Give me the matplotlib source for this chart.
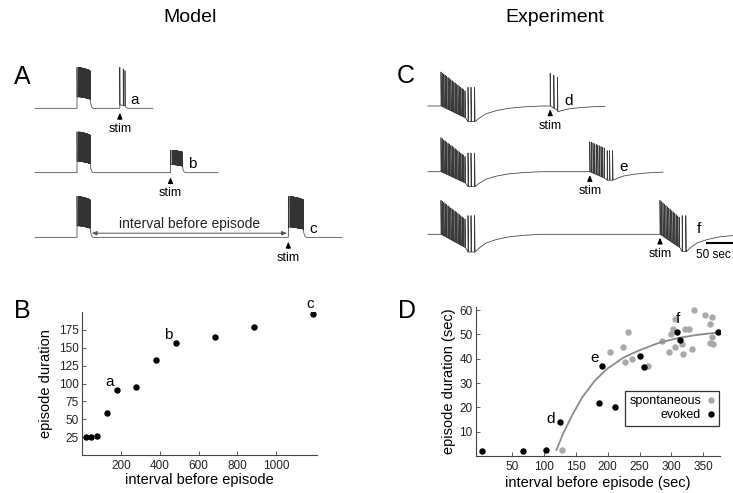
"""Model vs experiment: episode traces (A, C) and episode duration against the
interval before the episode (B, D). Saves out.png."""
import numpy as np
import matplotlib.pyplot as plt
from matplotlib.lines import Line2D

plt.rcParams['font.family'] = ['Liberation Sans', 'DejaVu Sans']

W, H = 733, 493

# ---- B: model, episode duration vs interval before episode ----
model_interval = [21, 45, 79, 129, 179, 279, 379, 483, 685, 887, 1190]
model_duration = [25, 25, 27, 59, 91, 95, 133, 157, 165, 179, 197]
model_tags = ['a', 'b', 'c']
model_tag_idx = [4, 7, 10]

# ---- D: experiment ----
spont_interval = [128, 203.8, 223.7, 226.8, 231.5, 237.8, 263.8, 285.2, 295.7,
                  299.3, 303, 305, 306, 316, 317.6, 321.2, 327.5, 332.2, 335.8,
                  353, 360.3, 363, 363.5, 360.3, 365.5]
spont_duration = [2.5, 42.6, 44.7, 38.8, 50.8, 39.7, 37.1, 47.1, 42.6,
                  50, 52.1, 56.5, 44.9, 46, 41.9, 52.1, 52.1, 44, 60,
                  58, 54.3, 49, 57, 46.3, 46]
evoked_interval = [4, 67, 104, 126, 186, 192, 212, 250, 257, 309, 313, 373]
evoked_duration = [2.2, 2.2, 2.5, 14.1, 21.7, 37, 20, 41.1, 36.7, 51, 47.7, 51]
fit_interval = [120, 130, 145, 160, 180, 200, 225, 250, 280, 310, 340, 370]
fit_duration = [2.5, 9, 17, 24, 31, 36, 40.5, 43.5, 46.5, 48.5, 49.8, 50.7]
exp_tags = ['d', 'e', 'f']
exp_tag_idx = [3, 5, 9]

# ---- A: model traces (time units of the model) ----
model_first_len = 78
model_trace_start = -252
model_trace_end = [456, 846, 1590]
model_evoked_len = [31, 71, 89]
model_evoked_top = [1.0, 0.55, 1.0]
model_evoked_n = [3, 30, 40]
model_plateau = [0.08, 0.2, 0.25]

# ---- C: recorded traces (seconds, first episode starts at 0) ----
exp_first_len = 56
exp_trace_start = -22
exp_trace_end = [273, 370, 560]
exp_first_trough = [0.46, 0.44, 0.52]
# evoked bursts d, e, f: dense span, spike count, top start/end,
# late sparse spikes (s after onset), their height, trough depth
exp_dense_len = [12, 24, 32]
exp_dense_n = [3, 10, 14]
exp_top_start = [0.96, 0.88, 1.0]
exp_top_end = [0.85, 0.7, 0.5]
exp_sparse = [[], [29, 33, 38], [37, 43]]
exp_sparse_top = [0.0, 0.62, 0.55]
exp_trough = [0.17, 0.25, 0.51]

fig = plt.figure(figsize=(W / 100, H / 100), dpi=100)


def px_axes(left, top, right, bottom):
    ax = fig.add_axes([left / W, 1 - bottom / H, (right - left) / W, (bottom - top) / H])
    return ax


def burst(onset, spikes, tops, bottoms, width, decay_t, decay_f):
    t, v = [onset], [0.0]
    for s, hi, lo in zip(spikes, tops, bottoms):
        t += [s, s, s + width]
        v += [lo, hi, lo]
    end, lo = t[-1], v[-1]
    t += list(end + np.asarray(decay_t, float))
    v += list(lo * np.asarray(decay_f, float))
    return t, v


def model_burst(onset, dur, top, n, plateau):
    spikes = onset + dur * np.linspace(0, 1, n) ** 0.6
    tops = np.linspace(top, 0.92 * top, n)
    bottoms = np.linspace(plateau, 0.8 * plateau, n)
    return burst(onset, spikes, tops, bottoms, 1.0, [0, 4, 10, 18], [1, 0.45, 0.12, 0])


RECOVER_T = [0, 6, 18, 35, 55, 80, 110]
RECOVER_F = [1, 0.8, 0.5, 0.3, 0.15, 0.06, 0]


def exp_burst(onset, dense_len, n, top0, top1, sparse, sparse_top, trough):
    spikes = np.concatenate([onset + np.linspace(0, dense_len, n), onset + np.asarray(sparse, float)])
    tops = np.concatenate([np.linspace(top0, top1, n), np.full(len(sparse), sparse_top)])
    bottoms = -trough * np.concatenate([np.linspace(0, 0.75, n), np.ones(len(sparse))])
    t, v = burst(onset, spikes, tops, bottoms, 0.8, RECOVER_T, RECOVER_F)
    v[-len(RECOVER_F):] = list(-trough * np.asarray(RECOVER_F))
    return t, v


def finish(start, pieces, end):
    """Join burst pieces into one trace running from start to end."""
    t, v = [start], [0.0]
    for pt, pv in pieces:
        t += pt
        v += pv
    t, v = np.asarray(t), np.asarray(v)
    keep = t < end
    v_end = np.interp(end, t, v) if t[-1] > end else 0.0
    return np.append(t[keep], end), np.append(v[keep], v_end)


def stim_mark(ax, t, tip, tail, text_y):
    ax.annotate('', xy=(t, tip), xytext=(t, tail),
                arrowprops=dict(arrowstyle='-|>,head_width=0.15,head_length=0.35',
                                lw=0.8, color='black', shrinkA=0, shrinkB=0))
    ax.text(t, text_y, 'stim', ha='center', va='center', fontsize=9)


# ---------------- panel A ----------------
A_UNIT = 41
a_bases = [108.3, 172.7, 237.3]
for k, base in enumerate(a_bases):
    ax = px_axes(30, base - 1.15 * A_UNIT, 350, base + 0.75 * A_UNIT)
    ax.set_xlim((30 - 77) * 6, (350 - 77) * 6)
    ax.set_ylim(-0.75, 1.15)
    ax.axis('off')
    stim = model_first_len + model_interval[model_tag_idx[k]]
    t, v = finish(model_trace_start,
                  [model_burst(0, model_first_len, 1.0, 40, 0.28),
                   model_burst(stim, model_evoked_len[k], model_evoked_top[k],
                               model_evoked_n[k], model_plateau[k])],
                  model_trace_end[k])
    ax.plot(t, v, color='#333333', lw=0.5)
    stim_mark(ax, stim, -0.11, -0.27, -0.5)
    ax.text(stim + model_evoked_len[k] + 60, 0.2, model_tags[k], ha='center',
            va='center', fontsize=11)
    if k == 2:
        ax.annotate('', xy=(model_first_len + 10, 0.1), xytext=(stim - 8, 0.1),
                    arrowprops=dict(arrowstyle='<|-|>,head_width=0.12,head_length=0.3',
                                    lw=0.7, color='#555555', shrinkA=0, shrinkB=0))
        ax.text((model_first_len + stim) / 2 + 5, 0.32, 'interval before episode',
                ha='center', va='center', fontsize=10, color='#222222')

# ---------------- panel C ----------------
C_UNIT = 34
c_bases = [106.0, 171.7, 234.3]
c_tag_dx = [31, 57, 65]
for k, base in enumerate(c_bases):
    ax = px_axes(420, base - 1.15 * C_UNIT, W, base + 0.8 * C_UNIT)
    ax.set_xlim((420 - 441) / 0.6, (W - 441) / 0.6)
    ax.set_ylim(-0.8, 1.15)
    ax.axis('off')
    stim = exp_first_len + evoked_interval[exp_tag_idx[k]]
    t, v = finish(exp_trace_start,
                  [exp_burst(0, 40, 18, 1.0, 0.45, [45, 50, 56], 0.55, exp_first_trough[k]),
                   exp_burst(stim, exp_dense_len[k], exp_dense_n[k], exp_top_start[k],
                             exp_top_end[k], exp_sparse[k], exp_sparse_top[k], exp_trough[k])],
                  exp_trace_end[k])
    ax.plot(t, v, color='#3a3a3a', lw=0.55)
    stim_mark(ax, stim, -0.1, -0.24, -0.58)
    ax.text(stim + c_tag_dx[k], 0.15, exp_tags[k], ha='center', va='center', fontsize=11)
    if k == 2:
        ax.plot([442, 492], [-0.27, -0.27], color='black', lw=1.5, solid_capstyle='butt')
        ax.text((731 - 441) / 0.6, -0.62, '50 sec', ha='right', va='center', fontsize=8.5)

# ---------------- panel B ----------------
AX_COL = '#444444'


def style_axes(ax):
    for side in ('top', 'right'):
        ax.spines[side].set_visible(False)
    for side in ('left', 'bottom'):
        ax.spines[side].set_color(AX_COL)
        ax.spines[side].set_linewidth(0.8)
    ax.tick_params(direction='in', length=3, width=0.6, colors=AX_COL,
                   labelcolor='#222222', labelsize=8.5)
    ax.tick_params(axis='x', pad=3.5)
    ax.tick_params(axis='y', pad=2.5)
    ax.patch.set_visible(False)


axB = px_axes(82, 312, 317, 455)
style_axes(axB)
axB.scatter(model_interval, model_duration, s=13, color='black', zorder=3)
axB.set_xlim(0, 1210)
axB.set_ylim(0, 200)
axB.set_xticks([200, 400, 600, 800, 1000])
axB.set_yticks([25, 50, 75, 100, 125, 150, 175])
axB.set_xlabel('interval before episode', fontsize=10.5, labelpad=1)
axB.set_ylabel('episode duration', fontsize=10.5, labelpad=4)
b_offsets = [(-5.5, 6), (-5.5, 5.5), (-2, 7.5)]
for tag, i, off in zip(model_tags, model_tag_idx, b_offsets):
    axB.annotate(tag, (model_interval[i], model_duration[i]), xytext=off,
                 textcoords='offset points', ha='center', va='center', fontsize=11)

# ---------------- panel D ----------------
axD = px_axes(476, 306.7, 720, 456)
style_axes(axD)
axD.scatter(spont_interval, spont_duration, s=13, color='#a9a9a9', zorder=2)
axD.plot(fit_interval, fit_duration, color='#8a8a8a', lw=1.3, zorder=3)
axD.scatter(evoked_interval, evoked_duration, s=13, color='black', zorder=4)
axD.set_xlim(-6, 376)
axD.set_ylim(0, 61.4)
axD.set_xticks([50, 100, 150, 200, 250, 300, 350])
axD.set_yticks([10, 20, 30, 40, 50, 60])
axD.set_xlabel('interval before episode (sec)', fontsize=10.5, labelpad=2)
axD.set_ylabel('episode duration (sec)', fontsize=10.5, labelpad=2)
d_offsets = [(-7, 2), (-5.5, 5.5), (0.7, 9)]
for tag, i, off in zip(exp_tags, exp_tag_idx, d_offsets):
    axD.annotate(tag, (evoked_interval[i], evoked_duration[i]), xytext=off,
                 textcoords='offset points', ha='center', va='center', fontsize=11)
handles = [Line2D([], [], ls='none', marker='o', ms=3.6, color='#a9a9a9'),
           Line2D([], [], ls='none', marker='o', ms=3.6, color='black')]
leg = axD.legend(handles, ['spontaneous', 'evoked'], loc='upper right',
                 bbox_to_anchor=(0.997, 0.435), markerfirst=False, fontsize=9,
                 frameon=True, fancybox=False, edgecolor='black', borderpad=0.35,
                 handlelength=0.6, handletextpad=0.5, labelspacing=0.15,
                 borderaxespad=0)
leg.get_frame().set_linewidth(0.9)

# ---------------- titles and panel letters ----------------
fig.text(190 / W, 1 - 18 / H, 'Model', ha='center', va='center', fontsize=14)
fig.text(555 / W, 1 - 18 / H, 'Experiment', ha='center', va='center', fontsize=14)
for letter, x, y in [('A', 22, 77), ('B', 22, 311), ('C', 406, 76), ('D', 407, 311)]:
    fig.text(x / W, 1 - y / H, letter, ha='center', va='center', fontsize=18)

fig.savefig('out.png', dpi=100)
